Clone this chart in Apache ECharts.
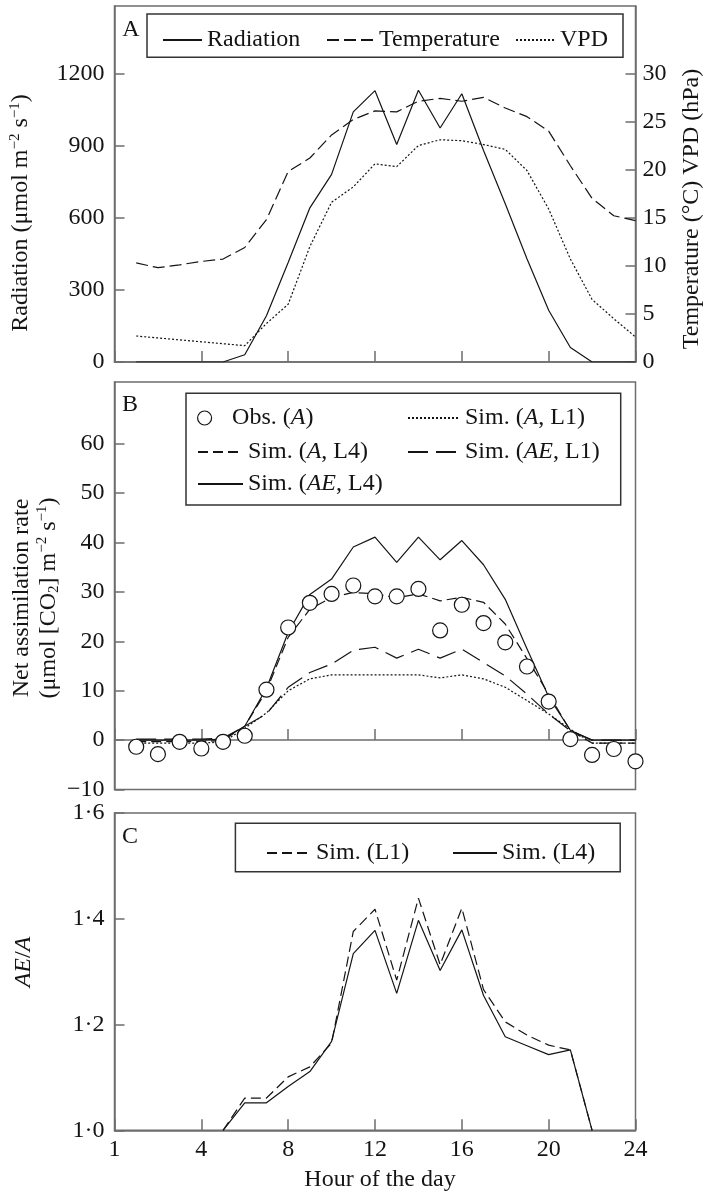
<!DOCTYPE html>
<html><head><meta charset="utf-8">
<script src="https://cdn.jsdelivr.net/npm/echarts@6/dist/echarts.min.js"></script>
<style>html,body{margin:0;padding:0;background:#fff}#c{width:714px;height:1200px}</style>
</head><body><div id="c"></div>
<script>
// ---------- data ----------
const hours = [1,2,3,4,5,6,7,8,9,10,11,12,13,14,15,16,17,18,19,20,21,22,23,24];
// Panel A
const radiation   = [0,0,0,0,0,30,192,414,641,780,1040,1128,904,1130,973,1115,879,658,429,215,60,0,0,0];
const temperature = [10.3,9.8,10.1,10.45,10.7,11.9,14.8,19.8,21.2,23.6,25.2,26.1,26.0,27.1,27.4,27.1,27.5,26.4,25.5,24.0,20.4,17.0,15.2,14.7];
const vpd         = [2.7,2.5,2.3,2.1,1.9,1.7,4.0,6.0,12.0,16.6,18.2,20.6,20.3,22.5,23.1,23.0,22.6,22.1,19.9,15.9,10.7,6.5,4.5,2.6];
// Panel B
const obsA    = [-1.35,-2.84,-0.34,-1.7,-0.34,0.88,10.2,22.8,27.8,29.6,31.3,29.1,29.1,30.6,22.2,27.4,23.7,19.8,14.9,7.8,0.2,-3.0,-1.8,-4.3];
const simA_L1 = [-0.6,-0.6,-0.6,-0.6,-0.4,2.4,5.5,10.0,12.4,13.2,13.2,13.2,13.2,13.2,12.6,13.2,12.4,10.7,8.0,5.3,2.2,-0.6,-0.6,-0.6];
const simA_L4 = [-0.3,-0.3,-0.3,-0.3,-0.1,2.8,10.0,20.8,26.5,28.9,29.9,29.6,28.8,29.6,28.2,28.9,27.9,23.5,16.5,9.3,1.9,-0.6,-0.6,-0.6];
const simAE_L1 = [0.2,0.2,0.2,0.2,0.4,2.8,5.3,10.7,13.7,15.4,18.2,18.8,16.6,18.4,16.6,18.4,15.7,13.0,9.3,5.3,1.9,0,0,0];
const simAE_L4 = [0,0,0,0,0.2,2.8,10.5,21.8,29.5,32.6,39.1,41.1,36.0,41.1,36.5,40.4,35.5,28.5,18.5,8.8,2.0,0,0,0];
// Panel C
const cHours = [5,6,7,8,9,10,11,12,13,14,15,16,17,18,19,20,21,22];
const ratioL1 = [1.0,1.061,1.061,1.101,1.12,1.165,1.376,1.418,1.284,1.439,1.313,1.42,1.266,1.205,1.18,1.161,1.152,1.0];
const ratioL4 = [1.0,1.052,1.052,1.083,1.111,1.168,1.334,1.378,1.259,1.397,1.302,1.379,1.255,1.177,1.16,1.143,1.152,1.0];
// tick labels
const xTickValues = [0,4,8,12,16,20,24];
const xTickLabels = ['1','4','8','12','16','20','24'];
const radTickValues = [0,300,600,900,1200];
const radTickLabels = ['0','300','600','900','1200'];
const tempTickValues = [0,5,10,15,20,25,30];
const tempTickLabels = ['0','5','10','15','20','25','30'];
const assimTickValues = [-10,0,10,20,30,40,50,60];
const assimTickLabels = ['\u221210','0','10','20','30','40','50','60'];
const ratioTickValues = [1.0,1.2,1.4,1.6];
const ratioTickLabels = ['1\u00b70','1\u00b72','1\u00b74','1\u00b76'];

// ---------- helpers ----------
const FONT = '"Liberation Serif", "Times New Roman", serif';
const INK = '#141414';
const FRAME = '#6e6e6e';
const pair = (xs, ys) => xs.map((x, i) => [x, ys[i]]);
const lookup = (vals, labs) => (v) => { const i = vals.findIndex(t => Math.abs(t - v) < 1e-6); return i >= 0 ? labs[i] : ''; };

function xAxis(gridIndex, showLabels) {
  return {
    type: 'value', gridIndex, min: 0, max: 24, interval: 4,
    axisLine: { show: true, lineStyle: { color: FRAME, width: 1.5 } },
    axisTick: { show: true, inside: true, length: 11, lineStyle: { color: FRAME, width: 1.5 }, customValues: xTickValues },
    axisLabel: { show: showLabels, margin: 7, color: INK, fontFamily: FONT, fontSize: 24,
      customValues: xTickValues, formatter: lookup(xTickValues, xTickLabels) },
    splitLine: { show: false }
  };
}
function yAxis(gridIndex, min, max, interval, vals, labs, position, margin) {
  return {
    type: 'value', gridIndex, min, max, interval, position: position || 'left',
    axisLine: { show: true, lineStyle: { color: FRAME, width: 1.5 } },
    axisTick: { show: true, inside: true, length: 10, lineStyle: { color: FRAME, width: 1.5 }, customValues: vals },
    axisLabel: { show: true, margin: margin || 10, color: INK, fontFamily: FONT, fontSize: 24,
      customValues: vals, formatter: lookup(vals, labs) },
    splitLine: { show: false }
  };
}
function line(name, xi, yi, data, type) {
  return { name, type: 'line', xAxisIndex: xi, yAxisIndex: yi, data, symbol: 'none', silent: true,
    lineStyle: { color: INK, width: 1.2, type: type || 'solid' }, itemStyle: { color: INK }, animation: false };
}
const richBase = {
  n: { fontFamily: FONT, fontSize: 24, color: INK },
  i: { fontFamily: FONT, fontSize: 24, color: INK, fontStyle: 'italic' }
};
function legendAt(name, left, cy, w, fmt, isSymbol) {
  return {
    data: [name], left, top: cy - 7, itemWidth: w, itemHeight: 14, padding: 0, itemGap: 0,
    selectedMode: false,
    itemStyle: isSymbol ? { color: '#fff', borderColor: INK, borderWidth: 1.2, opacity: 1 } : { opacity: 0, borderWidth: 0 },
    textStyle: { fontFamily: FONT, fontSize: 24, color: INK, rich: richBase },
    formatter: fmt || ((n) => '{n|' + n + '}')
  };
}
function rect(x, y, w, h) {
  return { type: 'rect', shape: { x, y, width: w, height: h }, silent: true,
    style: { fill: 'none', stroke: '#333', lineWidth: 1.5 }, z: 10 };
}
function txt(x, y, text, rich, rot) {
  return { type: 'text', x, y, rotation: rot || 0, silent: true, z: 10,
    style: { text, rich, fill: INK, font: '24px ' + FONT, fontFamily: FONT, fontSize: 24,
      align: 'center', verticalAlign: 'middle', textAlign: 'center', textVerticalAlign: 'middle' } };
}
const nameRich = {
  n: { fontFamily: FONT, fontSize: 24, color: INK, lineHeight: 27 },
  i: { fontFamily: FONT, fontSize: 24, color: INK, fontStyle: 'italic', lineHeight: 27 },
  s: { fontFamily: FONT, fontSize: 15, color: INK, verticalAlign: 'top', lineHeight: 15 },
  b: { fontFamily: FONT, fontSize: 15, color: INK, verticalAlign: 'bottom', lineHeight: 15 }
};

const chart = echarts.init(document.getElementById('c'), null, { renderer: 'canvas' });
chart.setOption({
  animation: false,
  backgroundColor: '#fff',
  grid: [
    { left: 114.5, top: 6, width: 521, height: 356, show: true, borderColor: FRAME, borderWidth: 1.5, outerBoundsMode: 'none' },
    { left: 114.5, top: 382, width: 521, height: 407.5, show: true, borderColor: FRAME, borderWidth: 1.5, outerBoundsMode: 'none' },
    { left: 114.5, top: 813, width: 521, height: 317.3, show: true, borderColor: FRAME, borderWidth: 1.5, outerBoundsMode: 'none' }
  ],
  xAxis: [ xAxis(0, false), xAxis(1, false), xAxis(2, true) ],
  yAxis: [
    yAxis(0, 0, 1480, 300, radTickValues, radTickLabels, 'left', 10),
    yAxis(0, 0, 37, 5, tempTickValues, tempTickLabels, 'right', 7),
    yAxis(1, -10, 72.5, 10, assimTickValues, assimTickLabels, 'left', 10),
    yAxis(2, 1.0, 1.6, 0.2, ratioTickValues, ratioTickLabels, 'left', 10)
  ],
  legend: [
    legendAt('Radiation', 162, 35, 39),
    legendAt('Temperature', 326, 35, 47),
    legendAt('VPD', 515, 35, 39),
    legendAt('Obs. (A)', 197, 413, 45, () => '{n|Obs. (}{i|A}{n|)}', true),
    legendAt('Sim. (A, L1)', 407, 413, 52, () => '{n|Sim. (}{i|A}{n|, L1)}'),
    legendAt('Sim. (A, L4)', 197, 447, 45, () => '{n|Sim. (}{i|A}{n|, L4)}'),
    legendAt('Sim. (AE, L1)', 407, 447, 52, () => '{n|Sim. (}{i|AE}{n|, L1)}'),
    legendAt('Sim. (AE, L4)', 197, 479, 45, () => '{n|Sim. (}{i|AE}{n|, L4)}'),
    legendAt('Sim. (L1)', 266, 848, 44),
    legendAt('Sim. (L4)', 452, 848, 44)
  ],
  series: [
    line('Radiation', 0, 0, pair(hours, radiation), 'solid'),
    line('Temperature', 0, 1, pair(hours, temperature), [12, 5]),
    line('VPD', 0, 1, pair(hours, vpd), [2, 2]),
    line('Sim. (A, L1)', 1, 2, pair(hours, simA_L1), [2, 2]),
    line('Sim. (A, L4)', 1, 2, pair(hours, simA_L4), [10, 5]),
    line('Sim. (AE, L1)', 1, 2, pair(hours, simAE_L1), [20, 8]),
    line('Sim. (AE, L4)', 1, 2, pair(hours, simAE_L4), 'solid'),
    { name: 'Obs. (A)', type: 'scatter', xAxisIndex: 1, yAxisIndex: 2, data: pair(hours, obsA),
      symbol: 'circle', symbolSize: 15, silent: true, z: 5,
      itemStyle: { color: '#fff', borderColor: INK, borderWidth: 1.2, opacity: 1 } },
    line('Sim. (L1)', 2, 3, pair(cHours, ratioL1), [10, 5]),
    line('Sim. (L4)', 2, 3, pair(cHours, ratioL4), 'solid')
  ],
  graphic: [
    rect(147, 14, 476, 43.3),
    rect(186, 393.3, 434.7, 111.7),
    rect(235.4, 823.3, 384.8, 48.4),
    txt(131, 30, 'A'),
    txt(130, 405, 'B'),
    txt(130, 837, 'C'),
    txt(21, 213, '{n|Radiation (\u03bcmol m}{s|\u22122}{n| s}{s|\u22121}{n|)}', nameRich, Math.PI / 2),
    txt(692, 209, '{n|Temperature (\u00b0C) VPD (hPa)}', nameRich, Math.PI / 2),
    txt(35, 598, '{n|Net assimilation rate}\n{n|(\u03bcmol [CO}{b|2}{n|] m}{s|\u22122}{n| s}{s|\u22121}{n|)}', nameRich, Math.PI / 2),
    txt(24, 962, '{i|AE}{n|/}{i|A}', nameRich, Math.PI / 2),
    txt(380, 1180, 'Hour of the day')
  ]
});
</script>
</body></html>
